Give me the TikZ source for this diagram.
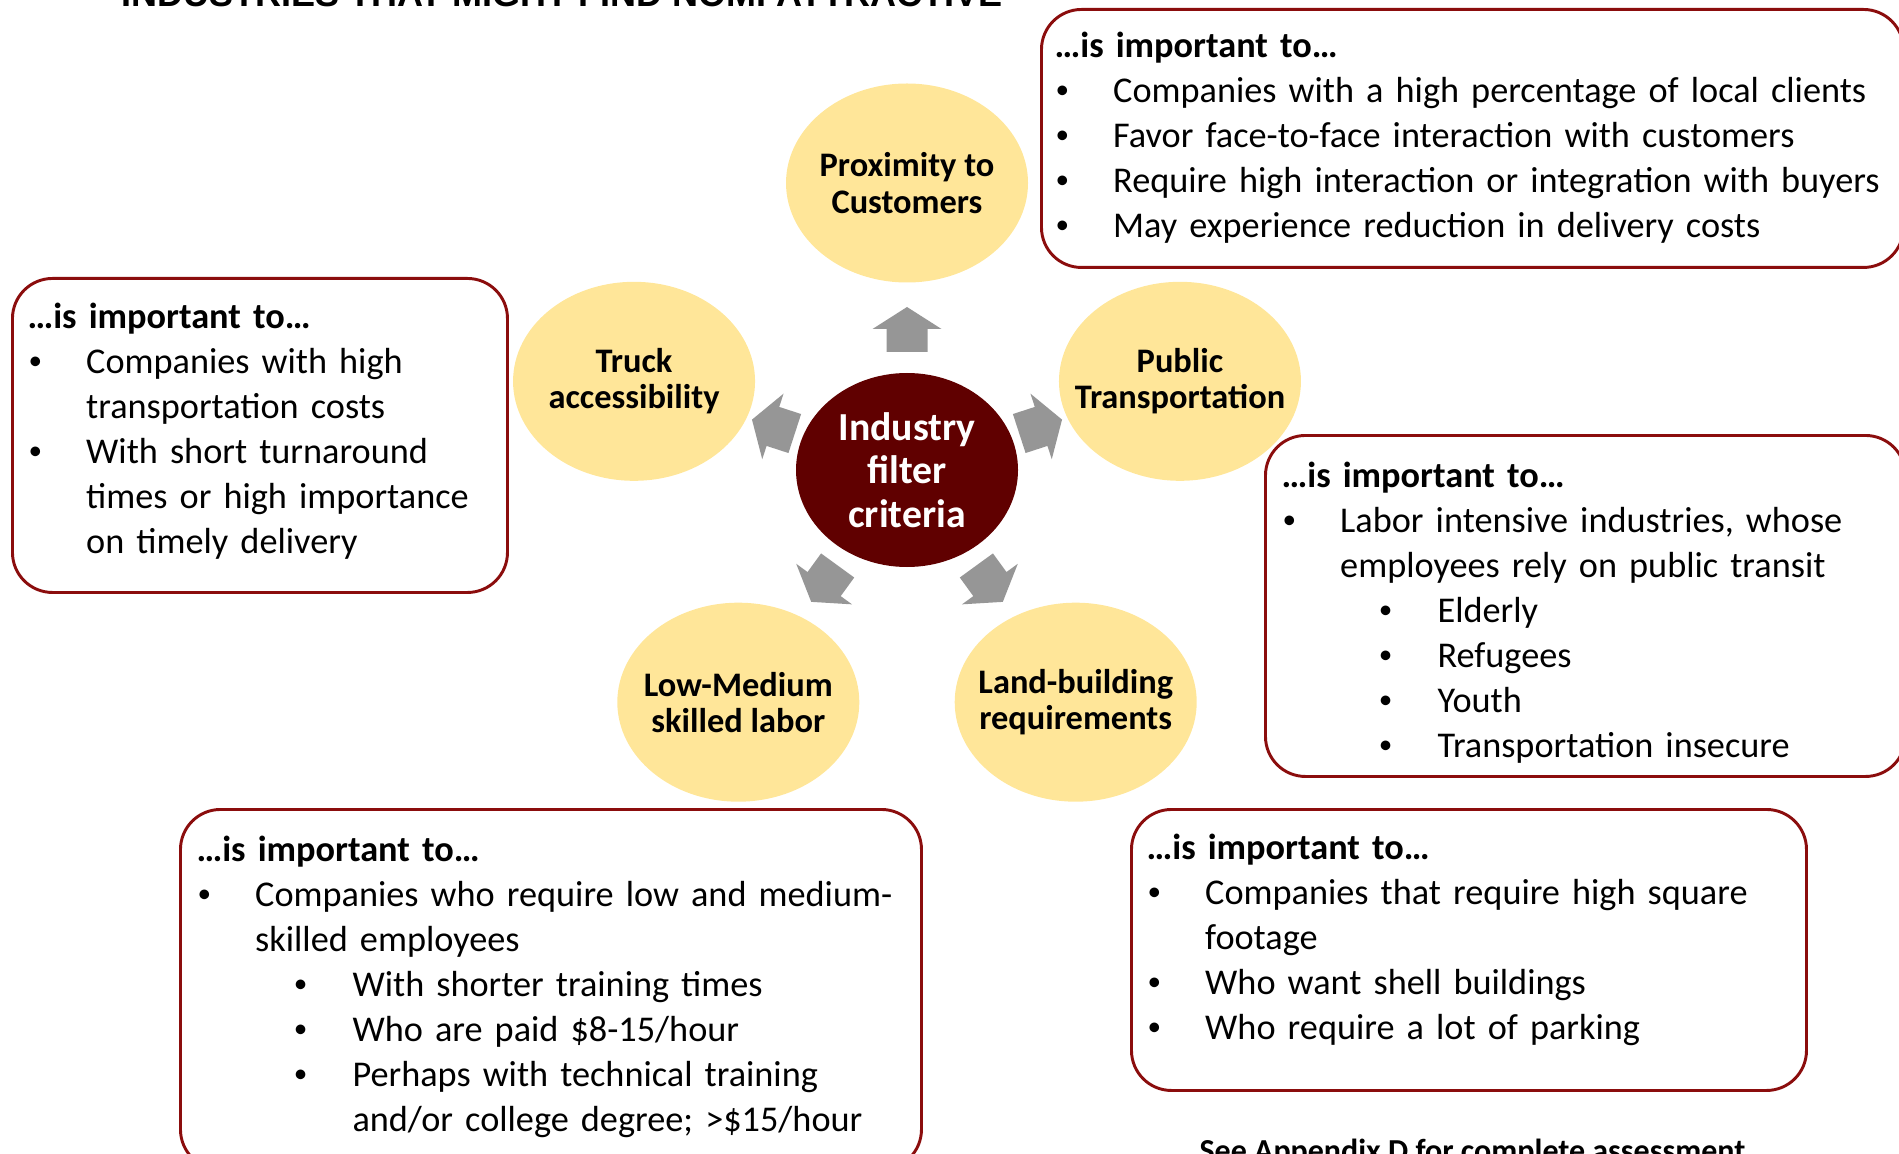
\documentclass[tikz,border=0pt]{standalone}
\usepackage{fontspec}
\usepackage{graphicx}
\setmainfont{Carlito}
\newfontfamily\headfont{Liberation Sans}
\usetikzlibrary{shapes.geometric}

\definecolor{ovalfill}{HTML}{FFE699}
\definecolor{hubred}{HTML}{600000}
\definecolor{arrowgray}{HTML}{969696}
\definecolor{boxline}{HTML}{8B0D0D}

\newcommand{\px}{0.375pt}
\newcommand{\bulmark}{\raisebox{0.1em}{\scalebox{0.75}{\textbullet}}}
% bullet rows, first level and second level
\newcommand{\itm}[1]{\par\hangindent=22pt\hangafter=1\noindent\makebox[22pt][l]{\hspace{0.4pt}\bulmark}#1}
\newcommand{\sitm}[1]{\par\hangindent=58.5pt\hangafter=1\noindent\makebox[58.5pt][l]{\hspace{36.5pt}\bulmark}#1}

\tikzset{
  oval/.style={ellipse, fill=ovalfill, minimum width=242*\px, minimum height=199*\px, inner sep=0pt},
  ovaltext/.style={align=center, inner sep=0pt, font=\fontsize{12.9}{13.6}\selectfont\bfseries},
  hub/.style={ellipse, fill=hubred, minimum width=222*\px, minimum height=194*\px, inner sep=0pt},
  hubtext/.style={align=center, inner sep=0pt, text=white, font=\fontsize{14.9}{16.4}\selectfont\bfseries},
  infobox/.style={draw=boxline, line width=1.1pt, rounded corners=15pt,
    anchor=north west, inner sep=0pt},
  infotext/.style={anchor=north west, inner sep=0pt, text width=330pt, align=left,
    font=\fontsize{13.6}{16.85}\selectfont},
  blockarrow/.style={fill=arrowgray}
}

\begin{document}
\begin{tikzpicture}[x=\px, y=\px]
\useasboundingbox (0,0) rectangle (1899,-1154);
\clip (0,0) rectangle (1899,-1154);

% title, cut at the top edge
\node[anchor=base west, inner sep=0pt, font=\headfont\fontsize{13.5}{16}\selectfont\bfseries]
  (title) at (121,-7) {INDUSTRIES THAT MIGHT FIND NOMI ATTRACTIVE};

% hub and criteria
\coordinate (ctr) at (907,-470);
\node[hub, label={[name=hubtxt, hubtext]center:Industry\\filter\\criteria}] (hub) at (ctr) {};
\node[oval, label={[name=proxtxt, ovaltext]center:Proximity to\\Customers}]
  (prox)  at ([shift={(90:287)}]hub.center)  {};
\node[oval, label={[name=trucktxt, ovaltext]center:Truck\\accessibility}]
  (truck) at ([shift={(162:287)}]hub.center) {};
\node[oval, label={[name=pubtxt, ovaltext]center:Public\\Transportation}]
  (pub)   at ([shift={(18:287)}]hub.center)  {};
\node[oval, label={[name=labortxt, ovaltext]center:Low-Medium\\skilled labor}]
  (labor) at ([shift={(234:287)}]hub.center) {};
\node[oval, label={[name=landtxt, ovaltext]center:Land-building\\requirements}]
  (land)  at ([shift={(306:287)}]hub.center) {};

% block arrows out of the hub
\foreach \a in {90,162,18,234,306}
  \fill[blockarrow, shift={(ctr)}, rotate=\a]
    (118,-20.5) -- (141,-20.5) -- (141,-34.5) -- (163,0) -- (141,34.5) -- (141,20.5) -- (118,20.5) -- cycle;

% frames
\node[infobox, minimum width=862*\px, minimum height=258*\px] (boxprox)  at (1040,-8) {};
\node[infobox, minimum width=495*\px, minimum height=314*\px] (boxtruck) at (11,-277) {};
\node[infobox, minimum width=640*\px, minimum height=341*\px] (boxpub)   at (1264,-434) {};
\node[infobox, minimum width=741*\px, minimum height=360*\px] (boxlabor) at (179,-808) {};
\node[infobox, minimum width=675*\px, minimum height=281*\px] (boxland)  at (1130,-808) {};

% texts
\node[infotext] (txtprox) at (1054,-25.5) {\noindent\textbf{\strut …is important to…}
  \itm{Companies with a high percentage of local clients}
  \itm{Favor face-to-face interaction with customers}
  \itm{Require high interaction or integration with buyers}
  \itm{May experience reduction in delivery costs}\par};
\node[infotext] (txttruck) at (27,-296.5) {\noindent\textbf{\strut …is important to…}
  \itm{Companies with high\newline transportation costs}
  \itm{With short turnaround\newline times or high importance\newline on timely delivery}\par};
\node[infotext] (txtpub) at (1281,-455.5) {\noindent\textbf{\strut …is important to…}
  \itm{Labor intensive industries, whose\newline employees rely on public transit}
  \sitm{Elderly}
  \sitm{Refugees}
  \sitm{Youth}
  \sitm{Transportation insecure}\par};
\node[infotext] (txtlabor) at (196,-829.5) {\noindent\textbf{\strut …is important to…}
  \itm{Companies who require low and medium-\newline skilled employees}
  \sitm{With shorter training times}
  \sitm{Who are paid \$8-15/hour}
  \sitm{Perhaps with technical training\newline and/or college degree; >\$15/hour}\par};
\node[infotext] (txtland) at (1146,-827.5) {\noindent\textbf{\strut …is important to…}
  \itm{Companies that require high square\newline footage}
  \itm{Who want shell buildings}
  \itm{Who require a lot of parking}\par};

% note, cut at the bottom edge
\node[anchor=base west, inner sep=0pt, font=\fontsize{12}{14}\selectfont\bfseries]
  (note) at (1199,-1161) {See Appendix D for complete assessment};
\end{tikzpicture}
\end{document}
